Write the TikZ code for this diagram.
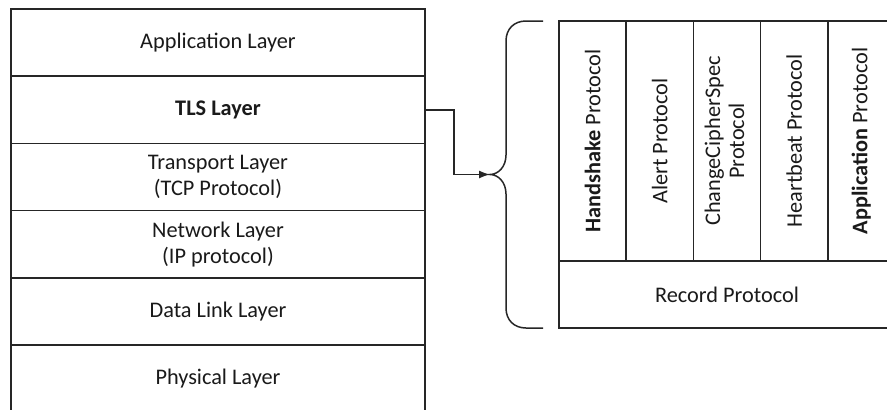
\documentclass[tikz,border=0pt]{standalone}
\usepackage{fontspec}
\setmainfont{Carlito}
\usetikzlibrary{arrows.meta}
\definecolor{linec}{HTML}{262626}
\definecolor{textc}{HTML}{1A1A1A}
\begin{document}
\begin{tikzpicture}[x=1pt,y=-1pt,
  every node/.style={inner sep=0pt, text=textc, font=\fontsize{22.3}{26}\selectfont, align=center},
  layer/.style={draw=linec, line width=1.5pt, minimum width=414pt, minimum height=67.2pt},
  protocol/.style={draw=linec, line width=1.5pt, minimum width=67.2pt, minimum height=240pt},
  record/.style={draw=linec, line width=1.5pt, minimum width=336pt, minimum height=67pt},
  brace/.style={draw=linec, line width=1.5pt},
  conn/.style={draw=linec, line width=1.5pt, -{Latex[length=11pt,width=8pt]}}]
\useasboundingbox (0,0) rectangle (887,410);
\clip (0,0) rectangle (887,410);
\fill[white] (0,0) rectangle (887,410);

% protocol stack
\node[layer] (app)  at (218,42.6)  {Application Layer};
\node[layer] (tls)  at (218,109.8) {\textbf{TLS Layer}};
\node[layer] (tcp)  at (218,177)   {Transport Layer\\(TCP Protocol)};
\node[layer] (ip)   at (218,244.2) {Network Layer\\(IP protocol)};
\node[layer] (link) at (218,311.4) {Data Link Layer};
\node[layer] (phy)  at (218,378.6) {Physical Layer};

% TLS sub-protocols
\node[protocol] (hs)  at (592.6,141) {\rotatebox{90}{\textbf{Handshake} Protocol}};
\node[protocol] (al)  at (659.8,141) {\rotatebox{90}{Alert Protocol}};
\node[protocol] (ccs) at (727,141)   {\rotatebox{90}{\begin{tabular}{@{}c@{}}ChangeCipherSpec\\[-2pt]Protocol\end{tabular}}};
\node[protocol] (hb)  at (794.2,141) {\rotatebox{90}{Heartbeat Protocol}};
\node[protocol] (ap)  at (861.4,141) {\rotatebox{90}{\textbf{Application} Protocol}};
\node[record] (rec) at (727,294.5) {Record Protocol};

% curly brace grouping the TLS protocols
\coordinate (tip) at (490,174.5);
\draw[brace] (543,21) -- (526,21) .. controls (514,21) and (506,29) .. (506,41)
  -- (506,155) .. controls (506,167) and (498,174.5) .. (tip)
  .. controls (498,174.5) and (506,182) .. (506,194)
  -- (506,308) .. controls (506,320) and (514,328) .. (526,328) -- (543,328);

% connector from the TLS layer to the brace
\draw[conn] (tls.east) -- ++(28,0) |- (tip);
\end{tikzpicture}
\end{document}
